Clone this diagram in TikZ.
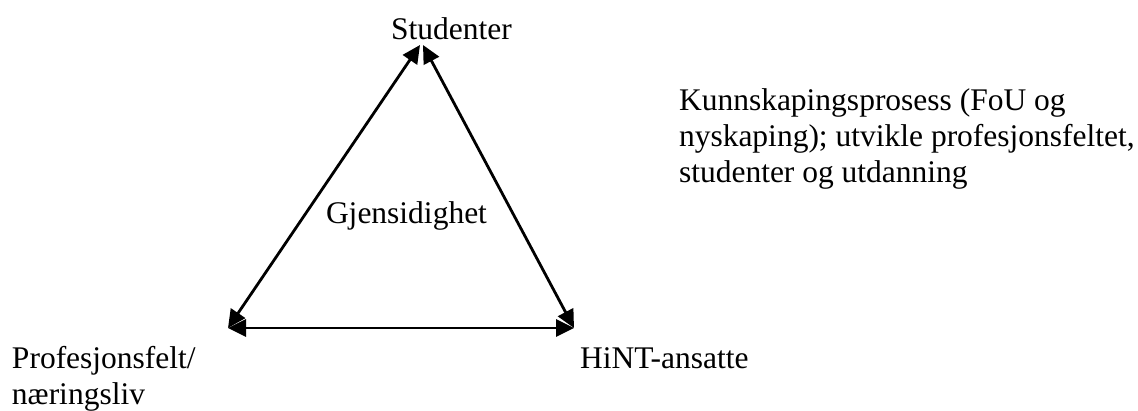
\documentclass[tikz,border=0pt]{standalone}
\usepackage{fontspec}
\setmainfont{Liberation Serif}
\usetikzlibrary{arrows.meta}
\tikzset{
  lbl/.style={inner sep=0pt, outer sep=0pt, font=\fontsize{31.5}{36}\selectfont, align=left},
  link/.style={line width=2.8pt, {Triangle[length=18pt,width=17pt]}-{Triangle[length=18pt,width=17pt]}}
}
\begin{document}
\begin{tikzpicture}[x=1pt,y=-1pt]
\useasboundingbox (0,0) rectangle (1138,410);
\coordinate (topL) at (420,45);
\coordinate (topR) at (423,45);
\coordinate (bl) at (228,328);
\coordinate (br) at (574,328);
\draw[link] (topL) -- (bl);
\draw[link] (topR) -- (br);
\draw[link] (bl) -- (br);
\node[lbl, anchor=base west] (stud) at (391,39) {Studenter};
\node[lbl, anchor=base west] (gjen) at (326,223) {Gjensidighet};
\node[lbl, anchor=base west] (hint) at (580,368) {HiNT-ansatte};
\node[lbl, anchor=base west] (prof1) at (12,368) {Profesjonsfelt/};
\node[lbl, anchor=base west] (prof2) at (12,404) {næringsliv};
\node[lbl, anchor=base west] (k1) at (679,110) {Kunnskapingsprosess (FoU og};
\node[lbl, anchor=base west] (k2) at (679,146) {nyskaping); utvikle profesjonsfeltet,};
\node[lbl, anchor=base west] (k3) at (679,182) {studenter og utdanning};
\end{tikzpicture}
\end{document}
